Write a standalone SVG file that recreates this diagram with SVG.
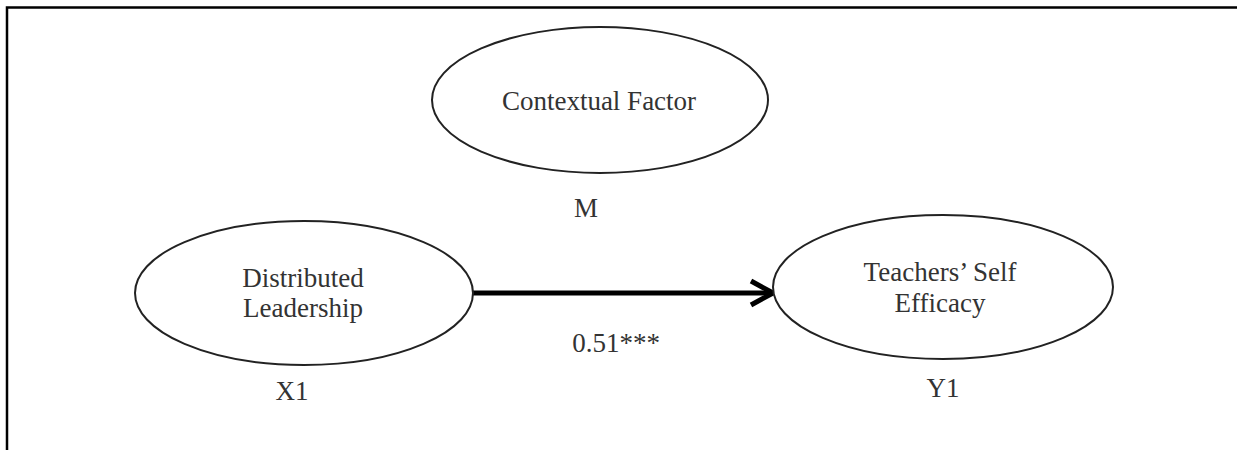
<svg xmlns="http://www.w3.org/2000/svg" width="1237" height="450" viewBox="0 0 1237 450">
<defs>
<style>
.node ellipse{fill:#fff;stroke:#222;stroke-width:2}
text{font-family:"Liberation Serif","Times New Roman",serif;font-size:27px;fill:#333;text-anchor:middle}
.frame{stroke:#000;stroke-width:2.5;fill:none}
.edge{stroke:#000;stroke-width:5;fill:none}
</style>
<marker id="arr" markerUnits="userSpaceOnUse" markerWidth="30" markerHeight="30" refX="26" refY="15" orient="auto">
<path d="M4,3 L26,15 L4,27" fill="none" stroke="#000" stroke-width="5" stroke-linejoin="miter"/>
</marker>
</defs>
<rect width="1237" height="450" fill="#fff"/>
<path class="frame" d="M7,450 V7.5 H1237"/>
<g id="connectors">
<line class="edge" x1="473" y1="293" x2="773" y2="293" marker-end="url(#arr)"/>
<text x="616" y="352">0.51***</text>
</g>
<g id="node-m" class="node">
<ellipse cx="600" cy="100" rx="168" ry="73"/>
<text x="599" y="110">Contextual Factor</text>
<text x="586" y="217">M</text>
</g>
<g id="node-x1" class="node">
<ellipse cx="304" cy="293" rx="169" ry="72"/>
<text x="303" y="287">Distributed</text>
<text x="303" y="317">Leadership</text>
<text x="292" y="400">X1</text>
</g>
<g id="node-y1" class="node">
<ellipse cx="943" cy="287" rx="170" ry="72"/>
<text x="940" y="281">Teachers’ Self</text>
<text x="940" y="312">Efficacy</text>
<text x="943" y="397">Y1</text>
</g>
</svg>
